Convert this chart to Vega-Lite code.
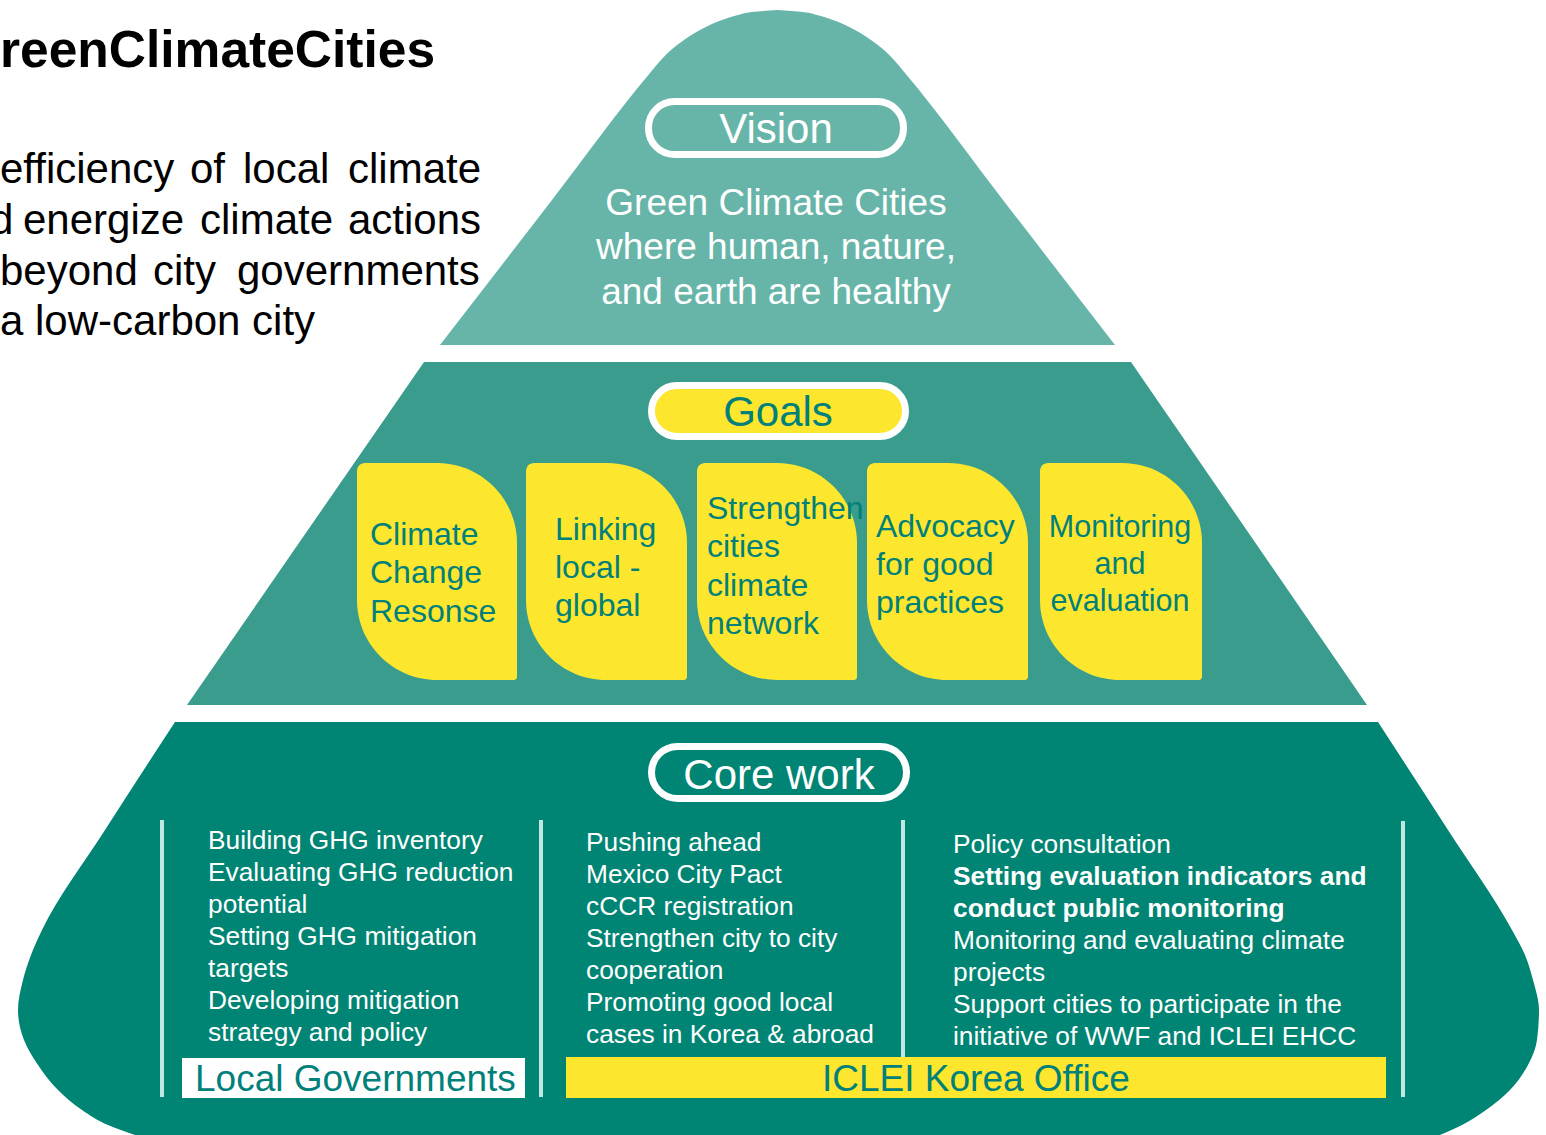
{
  "$schema": "https://vega.github.io/schema/vega-lite/v6.json",
  "width": 1546,
  "height": 1135,
  "autosize": {"type": "fit", "contains": "padding"},
  "padding": 0,
  "background": "#ffffff",
  "config": {"view": {"stroke": null}, "text": {"font": "Liberation Sans"}},
  "datasets": {
    "shapes": [
      {"part": "Vision", "y": 10, "x": 777.5, "x2": 777.5},
      {"part": "Vision", "y": 12, "x": 752, "x2": 803},
      {"part": "Vision", "y": 15, "x": 738, "x2": 817},
      {"part": "Vision", "y": 20, "x": 722, "x2": 833},
      {"part": "Vision", "y": 30, "x": 700, "x2": 855},
      {"part": "Vision", "y": 40, "x": 684, "x2": 871},
      {"part": "Vision", "y": 50, "x": 671, "x2": 884},
      {"part": "Vision", "y": 60, "x": 661, "x2": 894},
      {"part": "Vision", "y": 73, "x": 650, "x2": 905},
      {"part": "Vision", "y": 200, "x": 552, "x2": 1003},
      {"part": "Vision", "y": 345, "x": 440, "x2": 1115},
      {"part": "Goals", "y": 362, "x": 424, "x2": 1131},
      {"part": "Goals", "y": 705, "x": 187, "x2": 1367},
      {"part": "Core work", "y": 722, "x": 175, "x2": 1378},
      {"part": "Core work", "y": 830, "x": 105, "x2": 1448},
      {"part": "Core work", "y": 930, "x": 42, "x2": 1512},
      {"part": "Core work", "y": 955, "x": 31, "x2": 1525},
      {"part": "Core work", "y": 980, "x": 23, "x2": 1533},
      {"part": "Core work", "y": 1010, "x": 18, "x2": 1539},
      {"part": "Core work", "y": 1040, "x": 24, "x2": 1537},
      {"part": "Core work", "y": 1065, "x": 38, "x2": 1528},
      {"part": "Core work", "y": 1090, "x": 58, "x2": 1510},
      {"part": "Core work", "y": 1110, "x": 82, "x2": 1486},
      {"part": "Core work", "y": 1125, "x": 108, "x2": 1462},
      {"part": "Core work", "y": 1135, "x": 135, "x2": 1440}
    ],
    "pills": [
      {"pill": "Vision", "x": 648.5, "x2": 903.5, "y": 101.5, "y2": 154.5},
      {"pill": "Goals", "x": 651.5, "x2": 905.5, "y": 385.5, "y2": 436.5},
      {"pill": "Core work", "x": 651.5, "x2": 906.5, "y": 746.5, "y2": 798.5}
    ],
    "pillLabels": [
      {"pill": "Vision", "x": 776, "y": 143},
      {"pill": "Goals", "x": 778, "y": 426},
      {"pill": "Core work", "x": 779, "y": 789}
    ],
    "vision": [
      {"text": "Green Climate Cities", "x": 776, "y": 215},
      {"text": "where human, nature,", "x": 776, "y": 259},
      {"text": "and earth are healthy", "x": 776, "y": 304}
    ],
    "goalBoxes": [
      {"goal": "Climate Change Resonse", "x": 357, "x2": 517, "y": 463, "y2": 680},
      {"goal": "Linking local - global", "x": 526, "x2": 687, "y": 463, "y2": 680},
      {"goal": "Strengthen cities climate network", "x": 697, "x2": 857, "y": 463, "y2": 680},
      {"goal": "Advocacy for good practices", "x": 867, "x2": 1028, "y": 463, "y2": 680},
      {"goal": "Monitoring and evaluation", "x": 1040, "x2": 1202, "y": 463, "y2": 680}
    ],
    "goalText": [
      {"text": "Climate", "x": 370, "y": 545},
      {"text": "Change", "x": 370, "y": 583},
      {"text": "Resonse", "x": 370, "y": 622},
      {"text": "Linking", "x": 555, "y": 540},
      {"text": "local -", "x": 555, "y": 578},
      {"text": "global", "x": 555, "y": 616},
      {"text": "Strengthen", "x": 707, "y": 519},
      {"text": "cities", "x": 707, "y": 557},
      {"text": "climate", "x": 707, "y": 596},
      {"text": "network", "x": 707, "y": 634},
      {"text": "Advocacy", "x": 876, "y": 537},
      {"text": "for good", "x": 876, "y": 575},
      {"text": "practices", "x": 876, "y": 613}
    ],
    "goalTextCentered": [
      {"text": "Monitoring", "x": 1120, "y": 537},
      {"text": "and", "x": 1120, "y": 574},
      {"text": "evaluation", "x": 1120, "y": 611}
    ],
    "dividers": [
      {"x": 162, "y": 820, "y2": 1097},
      {"x": 541, "y": 820, "y2": 1097},
      {"x": 903, "y": 820, "y2": 1097},
      {"x": 1403, "y": 821, "y2": 1097}
    ],
    "coreText": [
      {"text": "Building GHG inventory", "x": 208, "y": 849},
      {"text": "Evaluating GHG reduction", "x": 208, "y": 881},
      {"text": "potential", "x": 208, "y": 913},
      {"text": "Setting GHG mitigation", "x": 208, "y": 945},
      {"text": "targets", "x": 208, "y": 977},
      {"text": "Developing mitigation", "x": 208, "y": 1009},
      {"text": "strategy and policy", "x": 208, "y": 1041},
      {"text": "Pushing ahead", "x": 586, "y": 851},
      {"text": "Mexico City Pact", "x": 586, "y": 883},
      {"text": "cCCR registration", "x": 586, "y": 915},
      {"text": "Strengthen city to city", "x": 586, "y": 947},
      {"text": "cooperation", "x": 586, "y": 979},
      {"text": "Promoting good local", "x": 586, "y": 1011},
      {"text": "cases in Korea & abroad", "x": 586, "y": 1043},
      {"text": "Policy consultation", "x": 953, "y": 853},
      {"text": "Monitoring and evaluating climate", "x": 953, "y": 949},
      {"text": "projects", "x": 953, "y": 981},
      {"text": "Support cities to participate in the", "x": 953, "y": 1013},
      {"text": "initiative of WWF and ICLEI EHCC", "x": 953, "y": 1045}
    ],
    "coreBold": [
      {"text": "Setting evaluation indicators and", "x": 953, "y": 885},
      {"text": "conduct public monitoring", "x": 953, "y": 917}
    ],
    "labelBoxes": [
      {"box": "Local Governments", "x": 182, "x2": 525, "y": 1058, "y2": 1098},
      {"box": "ICLEI Korea Office", "x": 566, "x2": 1386, "y": 1057, "y2": 1098}
    ],
    "labelText": [
      {"text": "Local Governments", "x": 195, "y": 1091},
      {"text": "ICLEI Korea Office", "x": 822, "y": 1091}
    ],
    "title": [
      {"text": "reenClimateCities", "x": 0, "y": 67}
    ],
    "intro": [
      {"text": "efficiency", "x": 0, "y": 183},
      {"text": "of", "x": 190, "y": 183},
      {"text": "local", "x": 243, "y": 183},
      {"text": "climate", "x": 348, "y": 183},
      {"text": "d", "x": -10, "y": 234},
      {"text": "energize", "x": 23, "y": 234},
      {"text": "climate", "x": 200, "y": 234},
      {"text": "actions", "x": 348, "y": 234},
      {"text": "beyond", "x": 0, "y": 285},
      {"text": "city", "x": 153, "y": 285},
      {"text": "governments", "x": 237, "y": 285},
      {"text": "a low-carbon city", "x": 0, "y": 335}
    ]
  },
  "encoding": {
    "x": {"field": "x", "type": "quantitative", "scale": {"domain": [0, 1546], "nice": false, "zero": false}, "axis": null},
    "y": {"field": "y", "type": "quantitative", "scale": {"domain": [0, 1135], "nice": false, "zero": false, "reverse": true}, "axis": null}
  },
  "layer": [
    {
      "data": {"name": "shapes"},
      "mark": {"type": "area", "orient": "horizontal", "interpolate": "monotone"},
      "encoding": {
        "x2": {"field": "x2"},
        "color": {"field": "part", "type": "nominal", "scale": {"domain": ["Vision", "Goals", "Core work"], "range": ["#67B5A9", "#3A9C8D", "#008473"]}, "legend": null}
      }
    },
    {
      "data": {"name": "pills"},
      "mark": {"type": "rect", "cornerRadius": 26, "stroke": "#ffffff", "strokeWidth": 7},
      "encoding": {
        "x2": {"field": "x2"},
        "y2": {"field": "y2"},
        "fill": {"field": "pill", "type": "nominal", "scale": {"domain": ["Vision", "Goals", "Core work"], "range": ["#67B5A9", "#FCE62E", "#008473"]}, "legend": null}
      }
    },
    {
      "data": {"name": "pillLabels"},
      "mark": {"type": "text", "fontSize": 42, "align": "center", "baseline": "alphabetic"},
      "encoding": {
        "text": {"field": "pill"},
        "color": {"field": "pill", "type": "nominal", "scale": {"domain": ["Vision", "Goals", "Core work"], "range": ["#FFFFFF", "#00807A", "#FFFFFF"]}, "legend": null}
      }
    },
    {
      "data": {"name": "vision"},
      "mark": {"type": "text", "fontSize": 37, "align": "center", "baseline": "alphabetic", "color": "#FFFFFF"},
      "encoding": {"text": {"field": "text"}}
    },
    {
      "data": {"name": "goalBoxes"},
      "mark": {"type": "rect", "color": "#FCE62E", "cornerRadiusTopLeft": 8, "cornerRadiusTopRight": 80, "cornerRadiusBottomLeft": 80, "cornerRadiusBottomRight": 3},
      "encoding": {"x2": {"field": "x2"}, "y2": {"field": "y2"}}
    },
    {
      "data": {"name": "goalText"},
      "mark": {"type": "text", "fontSize": 32, "align": "left", "baseline": "alphabetic", "color": "#00807A"},
      "encoding": {"text": {"field": "text"}}
    },
    {
      "data": {"name": "goalTextCentered"},
      "mark": {"type": "text", "fontSize": 30.5, "align": "center", "baseline": "alphabetic", "color": "#00807A"},
      "encoding": {"text": {"field": "text"}}
    },
    {
      "data": {"name": "dividers"},
      "mark": {"type": "rule", "color": "#BFE8E2", "strokeWidth": 4},
      "encoding": {"y2": {"field": "y2"}}
    },
    {
      "data": {"name": "coreText"},
      "mark": {"type": "text", "fontSize": 26.3, "align": "left", "baseline": "alphabetic", "color": "#FFFFFF"},
      "encoding": {"text": {"field": "text"}}
    },
    {
      "data": {"name": "coreBold"},
      "mark": {"type": "text", "fontSize": 26.3, "fontWeight": "bold", "align": "left", "baseline": "alphabetic", "color": "#FFFFFF"},
      "encoding": {"text": {"field": "text"}}
    },
    {
      "data": {"name": "labelBoxes"},
      "mark": {"type": "rect"},
      "encoding": {
        "x2": {"field": "x2"},
        "y2": {"field": "y2"},
        "fill": {"field": "box", "type": "nominal", "scale": {"domain": ["Local Governments", "ICLEI Korea Office"], "range": ["#FFFFFF", "#FCE62E"]}, "legend": null}
      }
    },
    {
      "data": {"name": "labelText"},
      "mark": {"type": "text", "fontSize": 37, "align": "left", "baseline": "alphabetic", "color": "#00807A"},
      "encoding": {"text": {"field": "text"}}
    },
    {
      "data": {"name": "title"},
      "mark": {"type": "text", "fontSize": 51.5, "fontWeight": "bold", "align": "left", "baseline": "alphabetic", "color": "#000000", "clip": true},
      "encoding": {"text": {"field": "text"}}
    },
    {
      "data": {"name": "intro"},
      "mark": {"type": "text", "fontSize": 42, "align": "left", "baseline": "alphabetic", "color": "#000000", "clip": true},
      "encoding": {"text": {"field": "text"}}
    }
  ],
  "resolve": {"scale": {"color": "independent", "fill": "independent"}}
}
